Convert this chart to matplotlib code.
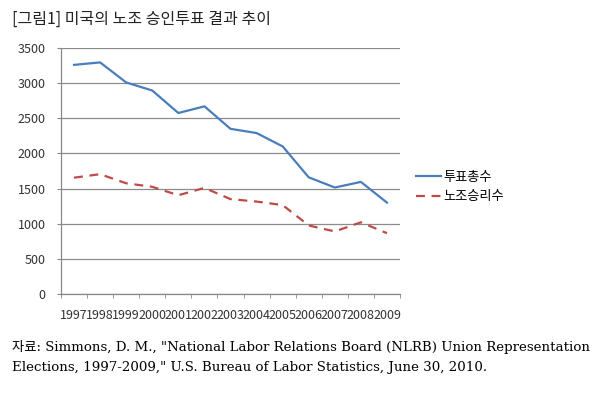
import numpy as np
import matplotlib.pyplot as plt

years = ['1997', '1998', '1999', '2000', '2001', '2002', '2003',
         '2004', '2005', '2006', '2007', '2008', '2009']
total_votes = [3260, 3295, 3010, 2895, 2575, 2670, 2350,
               2290, 2100, 1660, 1515, 1595, 1300]
union_wins = [1655, 1705, 1575, 1525, 1405, 1510, 1350,
              1315, 1265, 975, 890, 1020, 865]
series_names = ['투표총수', '노조승리수']
yticks = [0, 500, 1000, 1500, 2000, 2500, 3000, 3500]

title = '[그림1] 미국의 노조 승인투표 결과 추이'
source1 = '자료: Simmons, D. M., "National Labor Relations Board (NLRB) Union Representation'
source2 = 'Elections, 1997-2009," U.S. Bureau of Labor Statistics, June 30, 2010.'

plt.rcParams['font.family'] = ['Noto Sans CJK KR', 'DejaVu Sans']

fig = plt.figure(figsize=(5.98, 3.93), dpi=100)
ax = fig.add_axes([61/598, 1-294/393, 339/598, 246/393])

x = np.arange(len(years))
ax.plot(x, total_votes, color='#4A7EBB', lw=1.6, label=series_names[0])
ax.plot(x, union_wins, color='#BE4B48', lw=1.6, dashes=(4, 3), label=series_names[1])

ax.set_xlim(-0.5, len(years) - 0.5)
ax.set_ylim(0, 3500)
ax.set_yticks(yticks)
ax.set_yticklabels([str(v) for v in yticks], fontsize=9, color='#333333')
ax.set_xticks(x)
ax.set_xticklabels(years, fontsize=9, color='#333333')
ax.tick_params(axis='x', length=0, pad=11)
ax.set_xticks(np.arange(-0.5, len(years)), minor=True)
ax.tick_params(axis='x', which='minor', length=3, color='#888888', direction='out')
ax.tick_params(axis='y', length=3, color='#888888', direction='out', pad=8)

ax.yaxis.grid(True, color='#8c8c8c', lw=0.9)
ax.set_axisbelow(True)
for s in ['top', 'right']:
    ax.spines[s].set_visible(False)
for s in ['left', 'bottom']:
    ax.spines[s].set_color('#888888')
    ax.spines[s].set_linewidth(0.9)

fig.legend(loc='upper left', bbox_to_anchor=(404/598, 1-159/393), frameon=False,
           fontsize=9.5, handlelength=1.9, handletextpad=0.2, labelspacing=0.5)

fig.text(12/598, 1-19/393, title, fontsize=11.5, va='center', ha='left', color='#222222')
serif = ['DejaVu Serif', 'Noto Sans CJK KR']
fig.text(12/598, 1-347/393, source1, fontsize=9.6, va='center', ha='left', family=serif)
fig.text(12/598, 1-368/393, source2, fontsize=9.6, va='center', ha='left', family=serif)

fig.savefig('out.png', dpi=100, facecolor='white')
